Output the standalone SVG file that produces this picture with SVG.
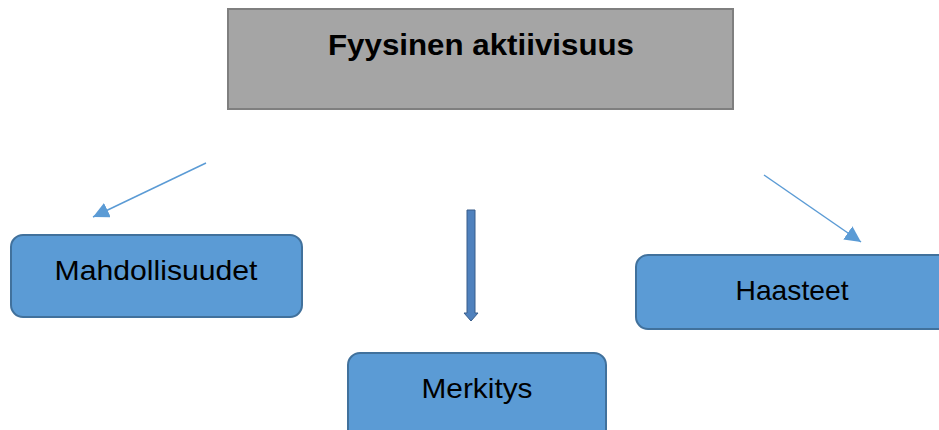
<svg xmlns="http://www.w3.org/2000/svg" width="939" height="430" viewBox="0 0 939 430">
<style>
.box{fill:#5b9bd5;stroke:#41719c;stroke-width:2}
.lbl{font-family:"Liberation Sans",Arial,sans-serif;font-size:28px;fill:#000;text-anchor:middle}
.conn{stroke:#5b9bd5;stroke-width:1.5;fill:none}
</style>
<defs>
<marker id="ah" markerUnits="userSpaceOnUse" markerWidth="18" markerHeight="17" refX="16" refY="8" orient="auto">
<path d="M0,0 L16,8 L0,16 z" fill="#5b9bd5"/>
</marker>
</defs>
<rect width="939" height="430" fill="#fff"/>
<g id="title">
<rect x="228" y="9" width="505" height="100" fill="#a5a5a5" stroke="#7f7f7f" stroke-width="2"/>
<text x="481" y="55" font-family="'Liberation Sans',Arial,sans-serif" font-size="30" font-weight="bold" text-anchor="middle" textLength="306" lengthAdjust="spacingAndGlyphs">Fyysinen aktiivisuus</text>
</g>
<g id="mahdollisuudet">
<rect class="box" x="11" y="235" width="291" height="82" rx="12"/>
<text class="lbl" x="156" y="280" textLength="203" lengthAdjust="spacingAndGlyphs">Mahdollisuudet</text>
</g>
<g id="haasteet">
<rect class="box" x="636" y="255" width="320" height="74" rx="12"/>
<text class="lbl" x="792" y="300" textLength="113" lengthAdjust="spacingAndGlyphs">Haasteet</text>
</g>
<g id="merkitys">
<rect class="box" x="348" y="353" width="258" height="90" rx="12"/>
<text class="lbl" x="477" y="398" textLength="111" lengthAdjust="spacingAndGlyphs">Merkitys</text>
</g>
<g id="connectors">
<line class="conn" x1="206" y1="163" x2="93" y2="217" marker-end="url(#ah)"/>
<line class="conn" x1="764" y1="175" x2="861" y2="242" marker-end="url(#ah)"/>
<polygon points="467,210 475,210 475,313 478,313 471,321 464,313 467,313" fill="#4f81bd" stroke="#385d8a" stroke-width="1"/>
</g>
</svg>
